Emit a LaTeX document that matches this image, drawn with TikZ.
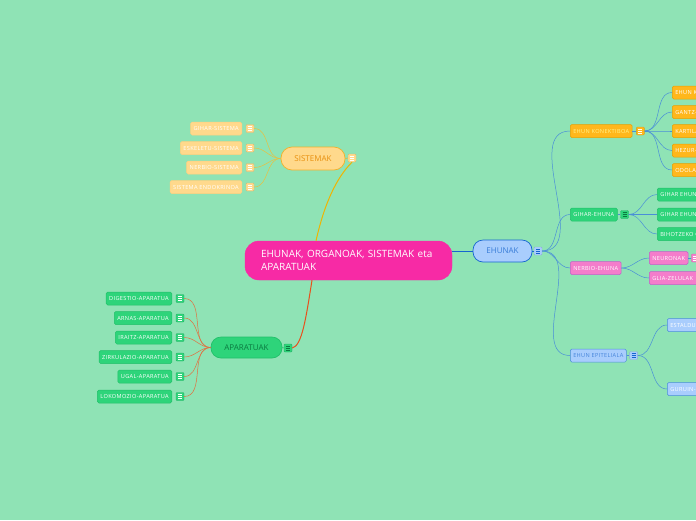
\documentclass[tikz,border=0pt]{standalone}
\usepackage{fontspec}
\setmainfont{Open Sans}
\newfontfamily\leaffont[LetterSpace=6]{Open Sans}
\definecolor{bg}{HTML}{8FE3B5}
\definecolor{rootc}{HTML}{F72AA5}
\definecolor{bluef}{HTML}{A9CDFD}
\definecolor{blued}{HTML}{1565D0}
\definecolor{bluel}{HTML}{4A8ED8}
\definecolor{sisf}{HTML}{FFD98C}
\definecolor{sisd}{HTML}{F2B02A}
\definecolor{sist}{HTML}{E8900E}
\definecolor{grf}{HTML}{2ED47A}
\definecolor{grd}{HTML}{22C06A}
\definecolor{grt}{HTML}{0A7A40}
\definecolor{konf}{HTML}{FFB71C}
\definecolor{kond}{HTML}{E8A000}
\definecolor{kont}{HTML}{FFF38A}
\definecolor{pkf}{HTML}{F47DCB}
\definecolor{pkd}{HTML}{C060C8}
\definecolor{apl}{HTML}{E07040}
\definecolor{apr}{HTML}{E8501C}
\definecolor{sisl}{HTML}{F0B400}
\definecolor{sisll}{HTML}{E8C040}
\newcommand\cutbox[1]{\makebox[70pt][l]{#1}}
\tikzset{
  leaf/.style={rounded corners=1.5pt, font=\leaffont\fontsize{5.6}{6}\selectfont, inner xsep=3pt, inner ysep=0pt, minimum height=13pt, line width=0.5pt},
  pill/.style={rounded corners=10pt, font=\fontsize{8}{9}\selectfont, inner sep=0pt, line width=0.7pt},
  icon/.style 2 args={minimum size=8pt, inner sep=0pt, rounded corners=1pt, line width=0.4pt, fill=#1, draw=#1!85!black,
    path picture={\foreach \dy in {-1.8,0,1.8}{\draw[#2,line width=0.5pt] ([xshift=-2pt,yshift=\dy pt]path picture bounding box.center) -- ([xshift=2pt,yshift=\dy pt]path picture bounding box.center);}}},
  conn/.style={line width=0.5pt}
}
\begin{document}
\begin{tikzpicture}[x=1pt,y=-1pt]
\useasboundingbox (0,0) rectangle (696,520);
\clip (0,0) rectangle (696,520);
\fill[bg] (0,0) rectangle (696,520);

% root
\node[fill=rootc, draw=rootc, rounded corners=14pt, minimum height=39pt, text width=175pt, align=left, inner xsep=16pt, text=white, font=\fontsize{10}{13.5}\selectfont] (root) at (348.5,260.5) {EHUNAK, ORGANOAK, SISTEMAK eta\\APARATUAK};

% main branches
\node[pill, fill=bluef, draw=blued, text=blued!85!white, minimum width=59pt, minimum height=22pt] (ehunak) at (502.5,251) {EHUNAK};
\node[icon={bluef}{blued}] (ehunaki) at (538,251) {};
\node[pill, fill=sisf, draw=sisd, text=sist, minimum width=64pt, minimum height=23pt, rounded corners=11pt] (sistemak) at (313,158.5) {SISTEMAK};
\node[icon={sisf}{white}] (sistemaki) at (352,158) {};
\node[pill, fill=grf, draw=grd, text=grt, minimum width=71pt, minimum height=21pt] (aparatuak) at (246.5,347.5) {APARATUAK};
\node[icon={grf}{grt}] (aparatuaki) at (288,348) {};

\draw[conn, line width=1pt, blued] (root.east |- ehunak.west) -- (ehunak.west);
\draw[conn, line width=0.6pt, blued] (ehunak.east) -- (ehunaki.west);
\draw[conn, line width=1pt, sisl] (root.north -| 316,0) .. controls (324,205) and (336,178) .. (sistemaki.south);
\draw[conn, line width=1pt, apr] (root.south -| 312,0) .. controls (306,318) and (302,346) .. (aparatuaki.east);
\draw[conn, line width=0.6pt, sisd] (sistemak.east) -- (sistemaki.west);
\draw[conn, line width=0.6pt, grd] (aparatuak.east) -- (aparatuaki.west);

% SISTEMAK children
\foreach \n/\t/\y in {s1/GIHAR-SISTEMA/128.5, s2/ESKELETU-SISTEMA/148, s3/NERBIO-SISTEMA/167.5, s4/SISTEMA ENDOKRINOA/187}{
  \node[leaf, fill=sisf, draw=sisf!90!orange, text=white, anchor=east] (\n) at (242,\y) {\t};
  \node[icon={sisf}{white}] (\n i) at (250,\y) {};
  \draw[conn, sisll] (\n i.east) to[out=0,in=180] (sistemak.west);
}

% APARATUAK children
\foreach \n/\t/\y in {a1/DIGESTIO-APARATUA/298.5, a2/ARNAS-APARATUA/318, a3/IRAITZ-APARATUA/337.5, a4/ZIRKULAZIO-APARATUA/357, a5/UGAL-APARATUA/376.5, a6/LOKOMOZIO-APARATUA/396.5}{
  \node[leaf, fill=grf, draw=grd, text=white, anchor=east] (\n) at (172,\y) {\t};
  \node[icon={grf}{white}] (\n i) at (180,\y) {};
  \draw[conn, apl] (\n i.east) to[out=0,in=180] (aparatuak.west);
}

% EHUNAK children
\node[leaf, fill=konf, draw=kond, text=kont, anchor=west] (kon) at (570,131) {EHUN KONEKTIBOA};
\node[icon={konf}{white}] (koni) at ([xshift=8pt]kon.east) {};
\node[leaf, fill=grf, draw=grd, text=white, anchor=west] (gih) at (570,214.5) {GIHAR-EHUNA};
\node[icon={grf}{grt}] (gihi) at ([xshift=7pt]gih.east) {};
\node[leaf, fill=pkf, draw=pkd, text=white, anchor=west] (ner) at (570,268) {NERBIO-EHUNA};
\node[leaf, fill=bluef, draw=bluel, text=blued!80!white, anchor=west] (epi) at (570,355.5) {EHUN EPITELIALA};
\node[icon={bluef}{blued}] (epii) at ([xshift=7pt]epi.east) {};
\foreach \c in {kon,gih,ner,epi}{
  \draw[conn, bluel] (ehunaki.east) to[out=0,in=180] (\c.west);
}
\draw[conn, bluel] (kon.east) -- (koni.west);
\draw[conn, bluel] (gih.east) -- (gihi.west);
\draw[conn, bluel] (epi.east) -- (epii.west);

% third level
\foreach \n/\t/\y in {k1/EHUN KONEKTIBO ARRUNTA/92.5, k2/GANTZ-EHUNA/112, k3/KARTILAGOA/131, k4/HEZUR-EHUNA/150.5, k5/ODOLA/170}{
  \node[leaf, fill=konf, draw=kond, text=white, anchor=west] (\n) at (672,\y) {\cutbox{\t}};
  \draw[conn, bluel] (koni.east) to[out=0,in=180] (\n.west);
}
\foreach \n/\t/\y in {g1/GIHAR EHUN ILDAXKADUNA/194.5, g2/GIHAR EHUN LEUNA/214.5, g3/BIHOTZEKO GIHAR-EHUNA/234}{
  \node[leaf, fill=grf, draw=grd, text=white, anchor=west] (\n) at (657,\y) {\cutbox{\t}};
  \draw[conn, bluel] (gihi.east) to[out=0,in=180] (\n.west);
}
\node[leaf, fill=pkf, draw=pkd, text=white, anchor=west] (n1) at (649,258) {NEURONAK};
\node[icon={pkf}{white}] (n1i) at ([xshift=7pt]n1.east) {};
\draw[conn, bluel] (n1.east) -- (n1i.west);
\node[leaf, fill=pkf, draw=pkd, text=white, anchor=west] (n2) at (649,278) {\cutbox{GLIA-ZELULAK}};
\foreach \n in {n1,n2}{
  \draw[conn, bluel] (ner.east) to[out=0,in=180] (\n.west);
}
\node[leaf, fill=bluef, draw=bluel, text=white, anchor=west] (e1) at (667,325) {\cutbox{ESTALDURA-EPITELIOA}};
\node[leaf, fill=bluef, draw=bluel, text=white, anchor=west] (e2) at (667,389) {\cutbox{GURUIN-EPITELIOA}};
\foreach \n in {e1,e2}{
  \draw[conn, bluel] (epii.east) to[out=0,in=180] (\n.west);
}
\end{tikzpicture}
\end{document}
